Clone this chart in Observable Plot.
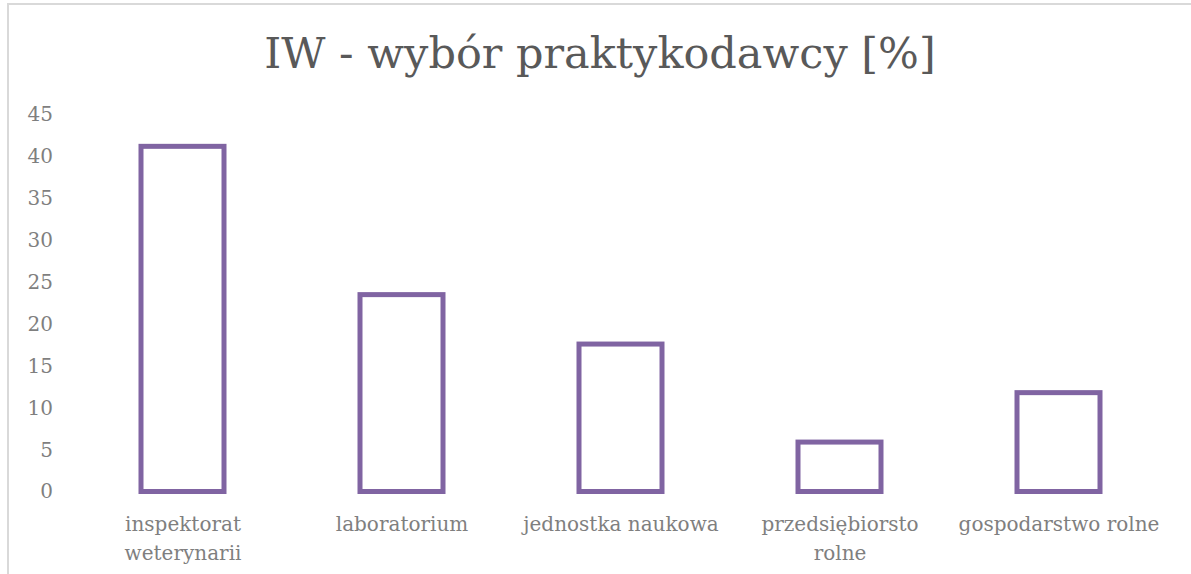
<!DOCTYPE html>
<html>
<head>
<meta charset="utf-8">
<script src="https://cdn.jsdelivr.net/npm/d3@7"></script>
<script src="https://cdn.jsdelivr.net/npm/@observablehq/plot@0.6"></script>
<style>
  html, body { margin: 0; padding: 0; background: #fff; width: 1191px; height: 574px; overflow: hidden; }
  #frame { position: absolute; left: 7px; top: 3px; width: 1220px; height: 620px; border: 2px solid #d9d9d9; box-sizing: border-box; }
  #title { position: absolute; left: 0; top: 0; width: 1200px; height: 100px; text-align: center;
           font-family: "DejaVu Serif", serif; font-size: 43px; color: #595959; line-height: 106px; white-space: nowrap; }
  #chart { position: absolute; left: 0; top: 100px; }
</style>
</head>
<body>
<div id="frame"></div>
<div id="title">IW - wybór praktykodawcy [%]</div>
<div id="chart"></div>
<script>
const categories = ["inspektorat weterynarii", "laboratorium", "jednostka naukowa", "przedsiębiorsto rolne", "gospodarstwo rolne"];
const tickLabels = ["inspektorat\nweterynarii", "laboratorium", "jednostka naukowa", "przedsiębiorsto\nrolne", "gospodarstwo rolne"];
const values = [41.2, 23.5, 17.6, 5.9, 11.8];
const yTicks = [0, 5, 10, 15, 20, 25, 30, 35, 40, 45];

const data = categories.map((c, i) => ({category: c, value: values[i]}));
const labelOf = new Map(categories.map((c, i) => [c, tickLabels[i]]));

const chart = Plot.plot({
  width: 1191,
  height: 474,
  marginTop: 14.5,
  marginBottom: 82.5,
  marginLeft: 73.5,
  marginRight: 22.5,
  style: {fontFamily: "DejaVu Serif, serif", fontSize: "20px", color: "#7f7f7f", background: "transparent"},
  x: {domain: categories, paddingInner: 0.62, paddingOuter: 0.31, align: 0.5},
  y: {domain: [0, 45]},
  marks: [
    Plot.barY(data, {x: "category", y: "value", fill: "white", stroke: "#8064A2", strokeWidth: 5}),
    Plot.axisY({ticks: yTicks, tickSize: 0, tickPadding: 21, label: null, fontSize: 20, fill: "#7f7f7f"}),
    Plot.axisX({tickSize: 0, tickPadding: 18, label: null, fontSize: 20, fill: "#7f7f7f", lineHeight: 1.45,
                tickFormat: d => labelOf.get(d)})
  ]
});
document.getElementById("chart").appendChild(chart);
</script>
</body>
</html>
